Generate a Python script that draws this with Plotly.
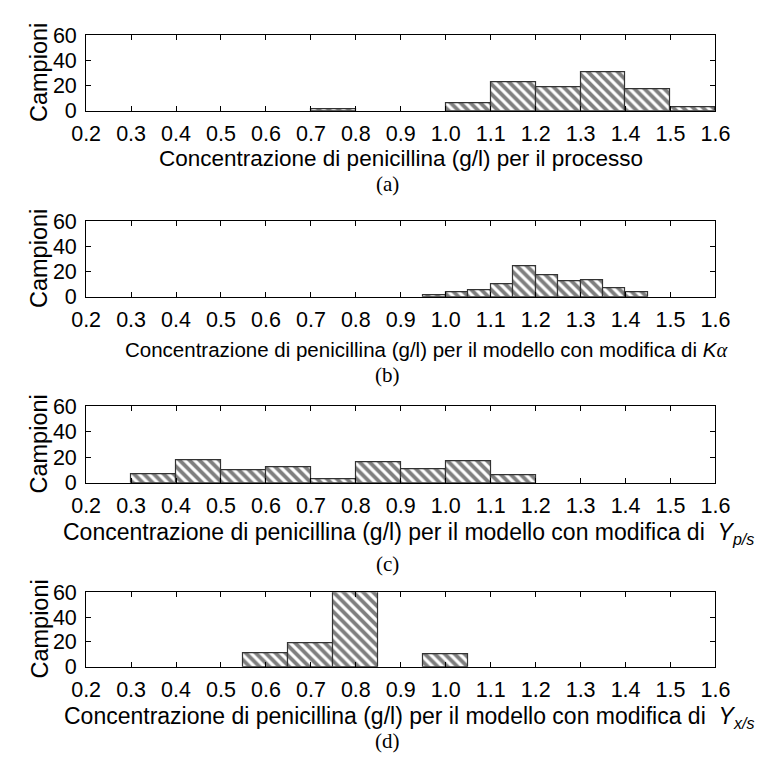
import plotly.graph_objects as go

# Histogram data: bin centres, bin widths and sample counts for each case
a_centers = [0.75, 1.05, 1.15, 1.25, 1.35, 1.45, 1.55]
a_counts = [1, 6, 23, 19, 31, 17, 3]
a_width = 0.1

b_centers = [0.975, 1.025, 1.075, 1.125, 1.175, 1.225, 1.275, 1.325, 1.375, 1.425]
b_counts = [1, 4, 5, 10, 24, 17, 12, 13, 7, 4]
b_width = 0.05

c_centers = [0.35, 0.45, 0.55, 0.65, 0.75, 0.85, 0.95, 1.05, 1.15]
c_counts = [7, 18, 10, 12, 3, 16, 11, 17, 6]
c_width = 0.1

d_centers = [0.6, 0.7, 0.8, 1.0]
d_counts = [11, 19, 60, 10]
d_width = 0.1

x_ticks = [0.2, 0.3, 0.4, 0.5, 0.6, 0.7, 0.8, 0.9, 1.0, 1.1, 1.2, 1.3, 1.4, 1.5, 1.6]
y_ticks = [0, 20, 40, 60]

base = "Concentrazione di penicillina (g/l) per il "
x_titles = [
    base + "processo",
    base + "modello con modifica di <i>K</i><span style=\"font-family:'Liberation Serif'\"><i>α</i></span>",
    base + "modello con modifica di  <i>Y</i><sub><i>p/s</i></sub>",
    base + "modello con modifica di  <i>Y</i><sub><i>x/s</i></sub>",
]
panel_tags = ["(a)", "(b)", "(c)", "(d)"]

W = H = 767
# plot boxes in pixels (top, bottom)
boxes = [(25, 103), (217, 295), (408, 487), (600, 677)]
x_left, x_right = 74, 729
title_y = [152, 349, 539, 729]
title_x = [402, 428, 410, 410]
title_size = [22.5, 20.5, 23, 23]
tag_y = [179, 376, 571, 754]

sans = "Liberation Sans, Arial, sans-serif"
serif = "Liberation Serif, Times New Roman, serif"

series = [
    (a_centers, a_counts, a_width),
    (b_centers, b_counts, b_width),
    (c_centers, c_counts, c_width),
    (d_centers, d_counts, d_width),
]

fig = go.Figure()

for i, (cx, cy, w) in enumerate(series):
    n = "" if i == 0 else str(i + 1)
    fig.add_trace(go.Bar(
        x=cx, y=cy, width=[w] * len(cx),
        xaxis="x" + n, yaxis="y" + n,
        marker=dict(
            color="white",
            line=dict(color="#333333", width=1.2),
            pattern=dict(shape="\\", fgcolor="black", bgcolor="white",
                         size=7, solidity=0.55),
        ),
        showlegend=False,
        cliponaxis=True,
    ))
    top, bot = boxes[i]
    common = dict(
        ticks="inside", ticklen=5, tickcolor="black", tickwidth=1,
        showline=True, linecolor="black", linewidth=1, mirror="ticks",
        showgrid=False, zeroline=False,
        tickfont=dict(family=sans, size=21.5, color="black"),
    )
    xa = dict(
        domain=[x_left / W, x_right / W], range=[0.2, 1.6],
        tickvals=x_ticks, ticktext=[f"{v:.1f}" for v in x_ticks],
        ticklabelstandoff=3, anchor="y" + n, **common,
    )
    ya = dict(
        domain=[1 - bot / H, 1 - top / H], range=[0, 60],
        tickvals=y_ticks, ticklabelstandoff=4, anchor="x" + n, **common,
    )
    fig.update_layout(**{"xaxis" + n: xa, "yaxis" + n: ya})

    fig.add_annotation(
        text="Campioni", textangle=-90, x=25 / W, y=1 - (top + bot) / 2 / H,
        xref="paper", yref="paper", xanchor="center", yanchor="middle",
        showarrow=False, font=dict(family=sans, size=23.5, color="black"),
    )
    fig.add_annotation(
        text=x_titles[i], x=title_x[i] / W, y=1 - title_y[i] / H,
        xref="paper", yref="paper", xanchor="center", yanchor="middle",
        showarrow=False, font=dict(family=sans, size=title_size[i], color="black"),
    )
    fig.add_annotation(
        text=panel_tags[i], x=388 / W, y=1 - tag_y[i] / H,
        xref="paper", yref="paper", xanchor="center", yanchor="middle",
        showarrow=False, font=dict(family=serif, size=21, color="black"),
    )

fig.update_layout(
    width=W, height=H,
    margin=dict(l=0, r=0, t=0, b=0),
    paper_bgcolor="white", plot_bgcolor="white",
    bargap=0,
)

fig.write_html("out.html")
